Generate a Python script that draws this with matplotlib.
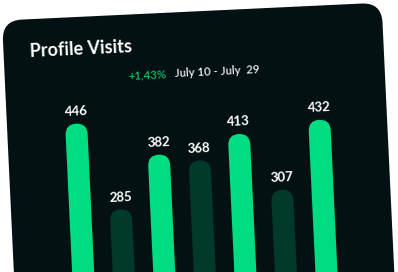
import matplotlib
matplotlib.use("Agg")
import matplotlib.pyplot as plt
from matplotlib.patches import FancyBboxPatch
from matplotlib.transforms import Affine2D

# Profile visits per bar
values = [446, 285, 382, 368, 413, 307, 432]
highlight = [True, False, True, False, True, False, True]
title = "Profile Visits"
change = "+1,43%"
period = "July 10 - July  29"

bright = "#00dc82"
dark = "#01392a"
card_bg = "#041112"

W, H = 398, 272
fig = plt.figure(figsize=(W / 100, H / 100), dpi=100)
fig.patch.set_facecolor("white")
ax = fig.add_axes([0, 0, 1, 1])
ax.set_xlim(0, W)
ax.set_ylim(0, H)
ax.axis("off")

# the card is tilted a little, everything is drawn in the card frame
theta = 2.7
cx, cy = 2.0, 251.5
card = Affine2D().scale(1, -1).translate(cx, cy).rotate_deg_around(cx, cy, theta) + ax.transData
sx, sy = 40.5, 0.545
bars = (Affine2D().scale(sx, sy).translate(cx + 69.2, cy - 349.6)
        .rotate_deg_around(cx, cy, theta) + ax.transData)

ax.add_patch(FancyBboxPatch((0, 0), 380, 420, boxstyle="round,pad=0,rounding_size=20",
                            fc=card_bg, ec="none", transform=card))

bw = 22 / sx
for i, v in enumerate(values):
    col = bright if highlight[i] else dark
    ax.add_patch(FancyBboxPatch((i - bw / 2, 0), bw, v,
                                boxstyle="round,pad=0,rounding_size=%f" % (bw / 2),
                                mutation_aspect=sx / sy, fc=col, ec="none",
                                transform=bars))
    ax.annotate(str(v), xy=(i, v), xycoords=bars, xytext=(0, 6), textcoords="offset points",
                ha="center", va="baseline", rotation=theta, rotation_mode="anchor",
                color="white", fontsize=9.5, family="Lato", weight="bold")

ax.text(26, 38, title, transform=card, ha="left", va="baseline", rotation=theta,
        rotation_mode="anchor", color="white", fontsize=13, family="Lato", weight="bold")
ax.text(123, 65, change, transform=card, ha="left", va="baseline", rotation=theta,
        rotation_mode="anchor", color="#17c474", fontsize=8.2, family="Lato", weight=500)
ax.text(170, 65, period, transform=card, ha="left", va="baseline", rotation=theta,
        rotation_mode="anchor", color="white", fontsize=8.2, family="Lato", weight=500)

fig.savefig("out.png", dpi=100, facecolor="white")
